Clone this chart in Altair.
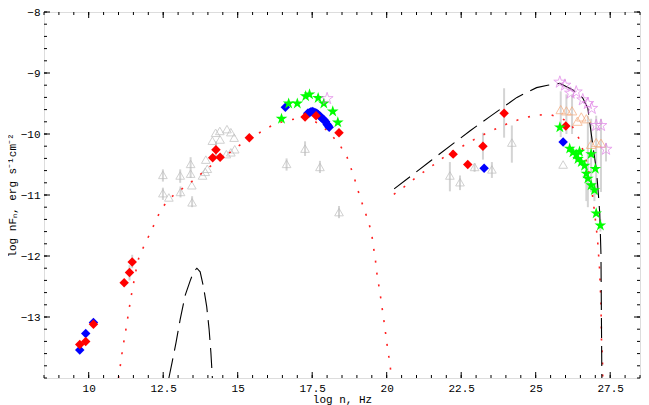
import altair as alt
import pandas as pd

# ---------------- data ----------------
red_x = [9.70, 9.90, 10.16, 11.19, 11.37, 11.46, 14.16, 14.27, 14.41, 15.39, 17.26, 17.63, 18.40,
         22.23, 22.72, 23.23, 23.94, 26.01]
red_y = [-13.45, -13.40, -13.12, -12.44, -12.27, -12.10, -10.39, -10.26, -10.38, -10.06, -9.72, -9.70, -9.98,
         -10.33, -10.50, -10.20, -9.66, -9.87]

blue_x = [9.70, 9.90, 10.16, 16.60, 17.35, 17.40, 17.45, 17.50, 17.55, 17.60, 17.65, 17.70, 17.75, 17.80,
          17.85, 17.90, 17.95, 18.00, 18.03, 18.07, 23.27, 25.92]
blue_y = [-13.54, -13.27, -13.09, -9.56, -9.66, -9.65, -9.64, -9.63, -9.64, -9.65, -9.66, -9.68, -9.70, -9.73,
          -9.75, -9.77, -9.80, -9.84, -9.86, -9.89, -10.56, -10.13]

green_x = [16.47, 16.71, 17.00, 17.28, 17.41, 17.70, 17.89, 18.19, 18.36,
           25.81, 26.14, 26.25, 26.36, 26.47, 26.42, 26.53, 26.64, 26.86, 26.70, 26.75, 27.00, 26.86, 26.97,
           27.03, 27.17]
green_y = [-9.75, -9.50, -9.50, -9.38, -9.35, -9.41, -9.50, -9.63, -9.81,
           -9.89, -10.24, -10.30, -10.34, -10.29, -10.41, -10.46, -10.52, -10.33, -10.65, -10.73, -10.57, -10.84,
           -10.92, -11.30, -11.50]

pink_x = [18.00, 25.81, 25.98, 26.17, 26.36, 26.58, 26.75, 26.88, 27.03, 27.19, 27.36]
pink_y = [-9.42, -9.15, -9.20, -9.33, -9.31, -9.44, -9.50, -9.58, -9.86, -9.86, -10.25]

orange_x = [25.84, 26.03, 26.22, 26.40, 26.53, 26.70, 26.86, 27.03, 27.19]
orange_y = [-9.60, -9.62, -9.62, -9.79, -9.72, -9.75, -10.17, -10.14, -10.15]

grey_x = [12.49, 12.49, 12.69, 13.07, 13.08, 13.42, 13.42, 13.46, 13.47, 13.82, 13.91, 13.98, 13.93,
          14.15, 14.26, 14.40, 14.41, 14.64, 14.77, 14.88, 14.90, 14.77, 14.62,
          16.64, 17.26, 17.76, 18.40, 22.12, 22.46, 22.95, 23.53, 24.20, 25.92]
grey_y = [-10.67, -10.97, -11.04, -10.68, -10.95, -10.49, -10.65, -10.84, -11.12, -10.68, -10.62, -10.57, -10.42,
          -10.11, -9.98, -9.95, -10.09, -9.92, -9.97, -10.06, -10.25, -10.30, -10.33,
          -10.49, -10.24, -10.54, -11.28, -10.68, -10.79, -10.54, -10.58, -10.14, -10.50]

err_x = [12.49, 12.49, 13.07, 13.08, 13.42, 13.47, 14.27, 11.46, 11.37, 16.64, 17.26, 17.76, 18.40,
         22.12, 22.46, 22.95, 23.53, 24.20, 23.94, 23.23,
         25.84, 26.03, 26.22, 26.75, 26.86, 27.03, 27.19, 27.36, 26.70, 26.97, 27.17]
err_lo = [-10.78, -11.08, -10.80, -11.04, -10.72, -11.20, -10.40, -12.20, -12.40, -10.60, -10.36, -10.64, -11.38,
          -10.94, -10.92, -10.62, -10.72, -10.47, -10.06, -10.42,
          -10.05, -10.00, -10.00, -11.20, -10.95, -11.00, -10.95, -10.45, -11.10, -11.10, -11.60]
err_hi = [-10.58, -10.88, -10.58, -10.86, -10.38, -11.02, -10.12, -11.98, -12.15, -10.40, -10.12, -10.44, -11.18,
          -10.46, -10.68, -10.48, -10.46, -9.86, -9.25, -9.98,
          -9.30, -9.35, -9.35, -9.70, -9.75, -9.70, -9.75, -10.15, -10.50, -10.80, -11.40]

# model curves
red_sync_x = [11.00, 11.06, 11.13, 11.28, 11.42, 11.59, 11.69, 11.88, 12.08, 12.26, 12.46, 12.76, 13.13, 13.51,
              13.85, 14.21, 14.59, 14.95, 15.73, 16.12, 16.60, 17.00, 17.40, 17.80, 18.17, 18.44, 18.67, 18.83,
              18.97, 19.10, 19.25, 19.40, 19.49, 19.55, 19.62, 19.67, 19.74, 19.81, 19.87, 19.94, 19.99, 20.06,
              20.12, 20.16]
red_sync_y = [-14.00, -13.80, -13.55, -13.11, -12.67, -12.23, -12.01, -11.81, -11.61, -11.41, -11.21, -11.04,
              -10.90, -10.76, -10.62, -10.48, -10.36, -10.22, -9.98, -9.87, -9.78, -9.75, -9.75, -9.85, -10.03,
              -10.19, -10.38, -10.60, -10.81, -11.03, -11.24, -11.46, -11.62, -11.83, -12.06, -12.28, -12.50,
              -12.72, -12.94, -13.17, -13.38, -13.61, -13.82, -14.00]
red_ic_x = [20.24, 20.63, 20.99, 21.36, 21.73, 22.10, 22.51, 22.90, 23.29, 23.73, 24.15, 24.59, 25.03, 25.48,
            25.90, 26.20, 26.47, 26.75, 26.92, 26.97, 27.03, 27.08, 27.14, 27.19, 27.21, 27.24, 27.25]
red_ic_y = [-10.99, -10.85, -10.71, -10.58, -10.45, -10.31, -10.21, -10.10, -10.00, -9.90, -9.81, -9.74, -9.69,
            -9.68, -9.75, -9.85, -10.09, -10.52, -11.05, -11.27, -11.52, -11.76, -12.19, -12.77, -13.45, -13.66,
            -14.00]
blk_sync_x = [12.69, 12.80, 12.93, 13.07, 13.24, 13.41, 13.52, 13.63, 13.74, 13.85, 13.96, 14.04, 14.10, 14.15]
blk_sync_y = [-14.00, -13.74, -13.42, -13.04, -12.64, -12.40, -12.26, -12.20, -12.26, -12.50, -12.83, -13.20,
              -13.58, -14.00]
blk_ic_x = [20.25, 21.50, 22.79, 23.45, 24.37, 25.03, 25.40, 25.81, 26.25, 26.58, 26.75, 26.86, 26.95, 27.03,
            27.08, 27.15, 27.19, 27.22]
blk_ic_y = [-10.90, -10.43, -9.95, -9.72, -9.40, -9.24, -9.20, -9.17, -9.28, -9.41, -9.58, -9.98, -10.30, -10.57,
            -10.84, -11.30, -11.97, -14.00]

x_major = [10, 12.5, 15, 17.5, 20, 22.5, 25, 27.5]
y_major = [-13, -12, -11, -10, -9, -8]
x_minor = [round(8.5 + 0.5 * k, 2) for k in range(41)]
y_minor = [round(-14 + 0.2 * k, 2) for k in range(31)]

# ---------------- chart ----------------
W, H = 596, 366
FONT = "Liberation Mono"
STAR = ("M0,-1L0.2245,-0.309L0.951,-0.309L0.363,0.118L0.588,0.809L0,0.382"
        "L-0.588,0.809L-0.363,0.118L-0.951,-0.309L-0.2245,-0.309Z")

xs = alt.Scale(domain=[8.5, 28.5], nice=False, zero=False)
ys = alt.Scale(domain=[-14, -8], nice=False, zero=False)
xaxis = alt.Axis(values=x_major,
                 labelExpr="datum.value % 1 === 0 ? format(datum.value, 'd') : format(datum.value, '.1f')",
                 ticks=False, domain=False, grid=False,
                 labelFont=FONT, labelFontSize=11, labelColor="black", labelPadding=4,
                 title="log n, Hz", titleFont=FONT, titleFontSize=11, titleFontWeight="normal",
                 titleColor="black", titleY=15, titleBaseline="top")
yaxis = alt.Axis(values=y_major, format="d", ticks=False, domain=False, grid=False,
                 labelFont=FONT, labelFontSize=11, labelColor="black", labelPadding=4,
                 title="log nFₙ, erg s⁻¹cm⁻²", titleFont=FONT, titleFontSize=11,
                 titleFontWeight="normal", titleColor="black",
                 titleX=-32, titleY=H / 2, titleBaseline="middle", titleAngle=270)


def X(f="x"):
    return alt.X(f"{f}:Q", scale=xs, axis=xaxis)


def Y(f="y"):
    return alt.Y(f"{f}:Q", scale=ys, axis=yaxis)


def pts(xv, yv):
    return pd.DataFrame({"x": xv, "y": yv, "i": range(len(xv))})


err_df = pd.DataFrame({"x": err_x, "lo": err_lo, "hi": err_hi})
errs = alt.Chart(err_df).mark_rule(color="#D4D4D4", strokeWidth=2).encode(
    x=X(), y=Y("lo"), y2="hi:Q")

grey = alt.Chart(pts(grey_x, grey_y)).mark_point(
    shape="triangle-up", filled=False, color="#BDBDBD", size=75, strokeWidth=1).encode(x=X(), y=Y())
orange = alt.Chart(pts(orange_x, orange_y)).mark_point(
    shape="triangle-up", filled=False, color="#F5A878", size=90, strokeWidth=1).encode(x=X(), y=Y())


def line(xv, yv, color, dash, sw):
    return alt.Chart(pts(xv, yv)).mark_line(color=color, strokeDash=dash, strokeWidth=sw, clip=True).encode(
        x=X(), y=Y(), order="i:Q")


lines = [
    line(red_sync_x, red_sync_y, "#FF2020", [2, 10], 1.6),
    line(red_ic_x, red_ic_y, "#FF2020", [2, 10], 1.6),
    line(blk_sync_x, blk_sync_y, "black", [20, 8], 1.1),
    line(blk_ic_x, blk_ic_y, "black", [20, 8], 1.1),
]

blue = alt.Chart(pts(blue_x, blue_y)).mark_point(
    shape="diamond", filled=True, color="#0000FF", size=90, opacity=1).encode(x=X(), y=Y())
red = alt.Chart(pts(red_x, red_y)).mark_point(
    shape="diamond", filled=True, color="#FF0000", size=90, opacity=1).encode(x=X(), y=Y())
green = alt.Chart(pts(green_x, green_y)).mark_point(
    shape=STAR, filled=True, color="#00FF00", size=150, opacity=1).encode(x=X(), y=Y())
pink = alt.Chart(pts(pink_x, pink_y)).mark_point(
    shape=STAR, filled=False, color="#E07FE6", size=160, strokeWidth=1).encode(x=X(), y=Y())


# inward ticks on all four sides
def tdf(v):
    return pd.DataFrame({"v": v})


MAJ, MIN = 6, 3
ticks = []
for vals, L in ((x_major, MAJ), (x_minor, MIN)):
    ticks.append(alt.Chart(tdf(vals)).mark_rule(color="black", strokeWidth=1).encode(
        x=alt.X("v:Q", scale=xs, axis=xaxis), y=alt.value(H), y2=alt.value(H - L)))
    ticks.append(alt.Chart(tdf(vals)).mark_rule(color="black", strokeWidth=1).encode(
        x=alt.X("v:Q", scale=xs, axis=xaxis), y=alt.value(0), y2=alt.value(L)))
for vals, L in ((y_major, MAJ), (y_minor, MIN)):
    ticks.append(alt.Chart(tdf(vals)).mark_rule(color="black", strokeWidth=1).encode(
        y=alt.Y("v:Q", scale=ys, axis=yaxis), x=alt.value(0), x2=alt.value(L)))
    ticks.append(alt.Chart(tdf(vals)).mark_rule(color="black", strokeWidth=1).encode(
        y=alt.Y("v:Q", scale=ys, axis=yaxis), x=alt.value(W), x2=alt.value(W - L)))

chart = alt.layer(errs, grey, orange, *lines, blue, red, green, pink, *ticks).properties(
    width=W, height=H,
    padding={"left": 36, "top": 4, "right": 1, "bottom": 27},
    autosize=alt.AutoSizeParams(type="none"),
).configure_view(stroke="black", strokeWidth=1).configure(background="white")

chart.save("out.html", embed_options={"renderer": "svg", "actions": False})
